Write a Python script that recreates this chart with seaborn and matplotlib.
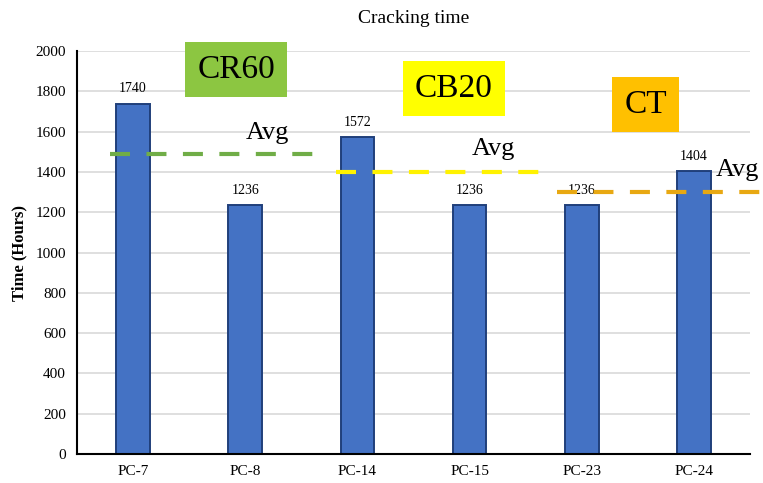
import matplotlib
matplotlib.use("Agg")
import matplotlib.pyplot as plt
import seaborn as sns
import pandas as pd

# Cracking time per specimen
specimens = ["PC-7", "PC-8", "PC-14", "PC-15", "PC-23", "PC-24"]
hours = [1740, 1236, 1572, 1236, 1236, 1404]

# Mixture groups: label, average level, span of the average line, colours
groups = ["CR60", "CB20", "CT"]
group_avg = [1488, 1400, 1300]
avg_start = [-0.21, 1.81, 3.78]
avg_end = [1.60, 3.63, 5.60]
box_colors = ["#8CC641", "#FFFF00", "#FFC000"]
line_colors = ["#70AD47", "#FFF200", "#E8A812"]
box_pos = [(0.92, 1908), (2.86, 1815), (4.57, 1735)]
avg_text_pos = [(1.20, 1592), (3.21, 1512), (5.39, 1408)]

df = pd.DataFrame({"Specimen": specimens, "Hours": hours})

sns.set_theme(style="white")
plt.rcParams["font.family"] = ["Liberation Serif", "DejaVu Serif"]
plt.rcParams["text.color"] = "black"
plt.rcParams["axes.labelcolor"] = "black"

fig = plt.figure(figsize=(7.63, 4.83), dpi=100)
ax = fig.add_axes([0.1009, 0.060, 0.882, 0.834])

sns.barplot(data=df, x="Specimen", y="Hours", ax=ax, color="#4472C4",
            width=0.3, edgecolor="#203F7A", linewidth=1.4, saturation=1,
            zorder=2)

ax.set_xlim(-0.5, 5.5)
ax.set_ylim(0, 2000)
ax.set_yticks(range(0, 2001, 200))
ax.yaxis.grid(True, color="#D9D9D9", linewidth=1.2, zorder=0)
ax.set_axisbelow(True)
for side in ["top", "right"]:
    ax.spines[side].set_visible(False)
ax.spines["left"].set_color("black")
ax.spines["left"].set_linewidth(1.5)
ax.spines["bottom"].set_color("black")
ax.spines["bottom"].set_linewidth(1.5)
ax.tick_params(axis="both", length=0, labelsize=11, colors="black", pad=8)

ax.set_xlabel("")
ax.set_ylabel("Time (Hours)", fontsize=12, fontweight="bold", labelpad=6)
ax.set_title("Cracking time", fontsize=14, pad=20)

# Value labels above each bar
for cont in ax.containers:
    ax.bar_label(cont, labels=[str(v) for v in hours], padding=6, fontsize=10)

# Group averages and group tags
for g, avg, x0, x1, bc, lc, bp, ap in zip(groups, group_avg, avg_start, avg_end,
                                          box_colors, line_colors, box_pos,
                                          avg_text_pos):
    ax.plot([x0, x1], [avg, avg], color=lc, linewidth=3.0,
            dashes=(4.8, 3.95), zorder=4, clip_on=False,
            solid_capstyle="butt", dash_capstyle="butt")
    ax.text(ap[0], ap[1], "Avg", fontsize=19, ha="center", va="center",
            zorder=5)
    ax.text(bp[0], bp[1], g, fontsize=24, ha="center", va="center", zorder=5,
            bbox=dict(boxstyle="square,pad=0.36", facecolor=bc,
                      edgecolor="none"))

fig.savefig("out.png", dpi=100)
